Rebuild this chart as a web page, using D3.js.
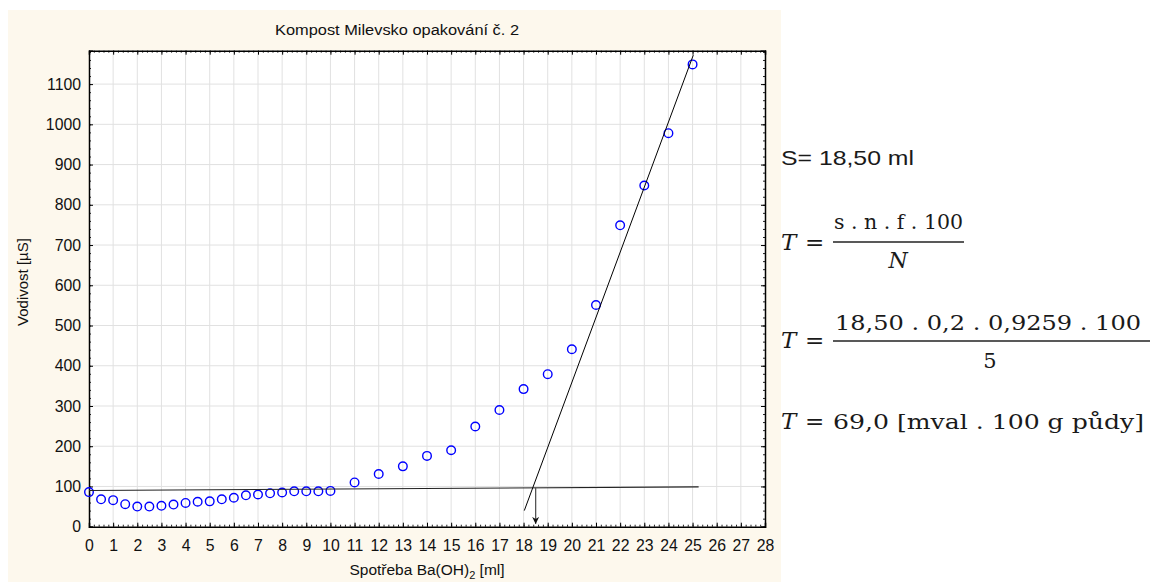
<!DOCTYPE html>
<html><head><meta charset="utf-8">
<script src="https://cdn.jsdelivr.net/npm/d3@7"></script>
<style>
html,body{margin:0;padding:0;background:#fff;}
svg{display:block;}
</style></head>
<body>
<svg id="chart" width="1156" height="582"></svg>
<script>
// ---- data ----
const volumes = [0,0.5,1,1.5,2,2.5,3,3.5,4,4.5,5,5.5,6,6.5,7,7.5,8,8.5,9,9.5,10,11,12,13,14,15,16,17,18,19,20,21,22,23,24,25];
const conductivity = [86,68,66,56,50,50,52,55,59,62,63,68,72,78,80,83,85,88,88,88,89,110,131,150,176,190,249,290,342,379,441,551,749,848,978,1149];
const baseLineX = [0, 25.25];
const baseLineY = [90, 99];
const steepLineX = [18.03, 25.03];
const steepLineY = [40, 1172];
const arrowX = [18.5, 18.5];
const arrowY = [97, 7];
const xTicks = d3.range(0, 29, 1);
const yTicks = d3.range(0, 1101, 100);
const xMinor = d3.range(0, 28.001, 0.2);
const yMinor = d3.range(0, 1181, 20);
const title = "Kompost Milevsko opakování č. 2";
const yTitle = "Vodivost [µS]";

// ---- layout ----
const svg = d3.select("#chart");
const L = 89, R = 765, T = 50.7, B = 526.7;
const x = d3.scaleLinear().domain([0, 28]).range([L, R]);
const y = d3.scaleLinear().domain([0, 1183]).range([B, T]);
const sans = "'Liberation Sans', Arial, sans-serif";
const serif = "'DejaVu Serif', 'Liberation Serif', serif";

svg.append("rect").attr("x", 8).attr("y", 10).attr("width", 773).attr("height", 572).attr("fill", "#fdf8ed");
svg.append("rect").attr("x", L).attr("y", T).attr("width", R - L).attr("height", B - T).attr("fill", "#fff");

// grid
svg.append("g").selectAll("line").data(xTicks.slice(1, -1)).join("line")
  .attr("x1", d => x(d)).attr("x2", d => x(d)).attr("y1", T).attr("y2", B)
  .attr("stroke", "#e1e1e1").attr("stroke-width", 1);
svg.append("g").selectAll("line").data(yTicks.slice(1)).join("line")
  .attr("y1", d => y(d)).attr("y2", d => y(d)).attr("x1", L).attr("x2", R)
  .attr("stroke", "#e1e1e1").attr("stroke-width", 1);

// minor ticks (inward)
function minor(axisFn, scale, vals, tr) {
  const g = svg.append("g").attr("transform", tr)
    .call(axisFn(scale).tickValues(vals).tickSize(-2).tickFormat(""));
  g.select(".domain").remove();
  g.selectAll("line").attr("stroke", "#222");
}
minor(d3.axisBottom, x, xMinor, `translate(0,${B})`);
minor(d3.axisTop, x, xMinor, `translate(0,${T})`);
minor(d3.axisLeft, y, yMinor, `translate(${L},0)`);
minor(d3.axisRight, y, yMinor, `translate(${R},0)`);

// major axes
const gx = svg.append("g").attr("transform", `translate(0,${B})`)
  .call(d3.axisBottom(x).tickValues(xTicks).tickSize(-4).tickPadding(13).tickFormat(d3.format("d")));
const gy = svg.append("g").attr("transform", `translate(${L},0)`)
  .call(d3.axisLeft(y).tickValues(yTicks).tickSize(-4).tickPadding(8).tickFormat(d3.format("d")));
const gt = svg.append("g").attr("transform", `translate(0,${T})`)
  .call(d3.axisTop(x).tickValues(xTicks).tickSize(-4).tickFormat(""));
const gr = svg.append("g").attr("transform", `translate(${R},0)`)
  .call(d3.axisRight(y).tickValues(yTicks).tickSize(-4).tickFormat(""));
[gx, gy, gt, gr].forEach(g => {
  g.select(".domain").attr("stroke", "#000").attr("stroke-width", 1.5);
  g.selectAll(".tick line").attr("stroke", "#000");
  g.selectAll("text").attr("font-family", sans).attr("font-size", 15.8).attr("fill", "#111");
});

// data points
svg.append("g").selectAll("circle").data(volumes.map((v, i) => [v, conductivity[i]])).join("circle")
  .attr("cx", d => x(d[0])).attr("cy", d => y(d[1])).attr("r", 4.3)
  .attr("fill", "none").attr("stroke", "#0000ff").attr("stroke-width", 1.4);

// fitted lines
const line = d3.line().x(d => x(d[0])).y(d => y(d[1]));
svg.append("path").attr("d", line(baseLineX.map((v, i) => [v, baseLineY[i]])))
  .attr("stroke", "#222").attr("stroke-width", 1.1).attr("fill", "none");
svg.append("path").attr("d", line(steepLineX.map((v, i) => [v, steepLineY[i]])))
  .attr("stroke", "#000").attr("stroke-width", 1).attr("fill", "none");

// arrow
svg.append("defs").append("marker").attr("id", "ah").attr("viewBox", "0 0 10 10")
  .attr("refX", 10).attr("refY", 5).attr("markerWidth", 7).attr("markerHeight", 9)
  .attr("markerUnits", "userSpaceOnUse").attr("orient", "auto")
  .append("path").attr("d", "M0,0 L10,5 L0,10 L3,5 Z").attr("fill", "#111");
svg.append("path").attr("d", line(arrowX.map((v, i) => [v, arrowY[i]])))
  .attr("stroke", "#555").attr("stroke-width", 1.3).attr("fill", "none").attr("marker-end", "url(#ah)");

// titles
svg.append("text").attr("x", 397).attr("y", 35).attr("text-anchor", "middle")
  .attr("font-family", sans).attr("font-size", 15.5).attr("fill", "#111")
  .attr("textLength", 244).attr("lengthAdjust", "spacingAndGlyphs").text(title);
svg.append("text").attr("transform", "translate(28,282) rotate(-90)").attr("text-anchor", "middle")
  .attr("font-family", sans).attr("font-size", 15).attr("fill", "#111").text(yTitle);
const xt = svg.append("text").attr("x", 427).attr("y", 575).attr("text-anchor", "middle")
  .attr("font-family", sans).attr("font-size", 15.5).attr("fill", "#111");
xt.append("tspan").text("Spotřeba Ba(OH)");
xt.append("tspan").attr("font-size", 11).attr("dy", 4).text("2");
xt.append("tspan").attr("dy", -4).text(" [ml]");

// right-side annotations
function txt(str, xx, yy, opts) {
  const t = svg.append("text").attr("x", xx).attr("y", yy)
    .attr("font-family", opts.family || serif).attr("font-size", opts.size || 22)
    .attr("fill", "#1a1a1a").text(str);
  if (opts.italic) t.attr("font-style", "italic");
  if (opts.anchor) t.attr("text-anchor", opts.anchor);
  if (opts.len) t.attr("textLength", opts.len).attr("lengthAdjust", "spacingAndGlyphs");
  return t;
}
txt("S= 18,50 ml", 781, 165, {family: sans, size: 21, len: 133});

// formula 1
txt("T", 781, 250, {italic: true, size: 23});
txt("=", 805, 250, {size: 23});
txt("s . n . f . 100", 834, 229, {size: 21, len: 129});
svg.append("line").attr("x1", 833).attr("x2", 964).attr("y1", 242).attr("y2", 242).attr("stroke", "#222").attr("stroke-width", 1.5);
txt("N", 898, 268, {italic: true, size: 22, anchor: "middle"});

// formula 2
txt("T", 781, 348, {italic: true, size: 23});
txt("=", 805, 348, {size: 23});
txt("18,50 .  0,2 .   0,9259 .  100", 835, 330, {size: 21, len: 306});
svg.append("line").attr("x1", 833).attr("x2", 1150).attr("y1", 341).attr("y2", 341).attr("stroke", "#222").attr("stroke-width", 1.5);
txt("5", 990, 368, {size: 21, anchor: "middle"});

// formula 3
txt("T", 781, 429, {italic: true, size: 23});
txt("=", 805, 429, {size: 23});
txt("69,0 [mval . 100 g půdy]", 833, 429, {size: 21, len: 311});
</script>
</body></html>
